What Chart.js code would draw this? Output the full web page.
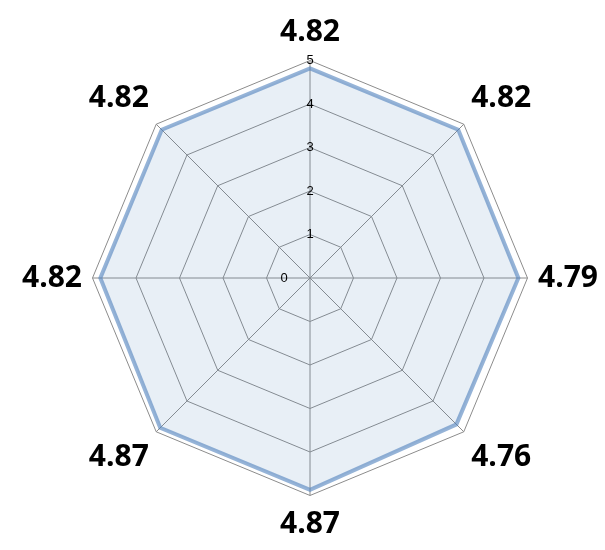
<!DOCTYPE html>
<html><head><meta charset="utf-8">
<script src="https://cdn.jsdelivr.net/npm/chart.js@4"></script>
<style>html,body{margin:0;padding:0;background:#fff}#w{width:605px;height:550px}</style>
</head><body><div id="w"><canvas id="c"></canvas></div>
<script>
const values = [4.82, 4.82, 4.79, 4.76, 4.87, 4.87, 4.82, 4.82];
const categories = values.map(v => v.toFixed(2));
const tickValues = [0, 1, 2, 3, 4, 5];
const zeroLabel = {
  id: 'zeroLabel',
  afterDraw(chart) {
    const r = chart.scales.r, ctx = chart.ctx;
    ctx.save();
    ctx.font = '13px "Liberation Sans"';
    ctx.fillStyle = '#000'; ctx.textAlign = 'center'; ctx.textBaseline = 'middle';
    ctx.fillText(String(tickValues[0]), r.xCenter - 26, r.yCenter);
    ctx.restore();
  }
};
new Chart(document.getElementById('c'), {
  type: 'radar',
  data: { labels: categories, datasets: [{
    data: values,
    backgroundColor: 'rgba(79,129,189,0.13)',
    borderColor: 'rgba(79,129,189,0.6)',
    borderWidth: 4, pointRadius: 0, fill: true
  }]},
  options: {
    responsive: true, maintainAspectRatio: false, animation: false,
    layout: { padding: { top: 6, bottom: 0, left: 22, right: 6 } },
    plugins: { legend: { display: false }, tooltip: { enabled: false } },
    scales: { r: {
      min: 0, max: 5,
      afterBuildTicks: s => { s.ticks = tickValues.map(v => ({ value: v })); },
      ticks: { showLabelBackdrop: false, color: '#000', font: { family: 'Liberation Sans', size: 13 }, z: 1 },
      grid: { color: '#8c8c8c', lineWidth: 1 },
      angleLines: { color: '#8c8c8c', lineWidth: 1 },
      pointLabels: { color: '#000', padding: 2, font: { family: 'Open Sans', size: 30, weight: 'bold' } }
    }}
  },
  plugins: [zeroLabel]
});
</script></body></html>
